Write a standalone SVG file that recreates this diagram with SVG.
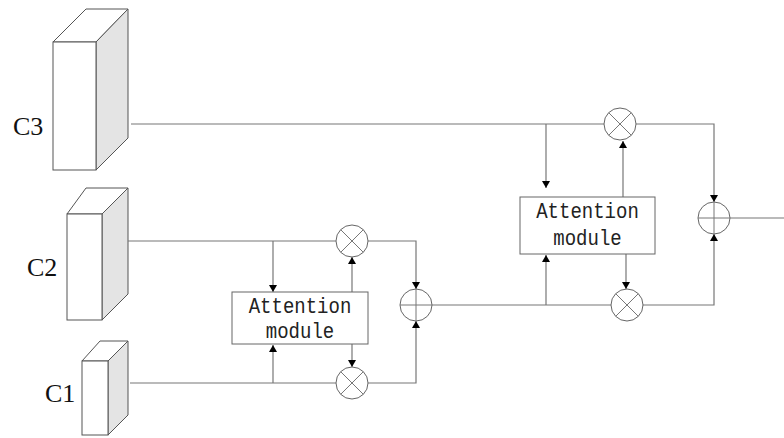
<svg xmlns="http://www.w3.org/2000/svg" width="784" height="438" viewBox="0 0 784 438">
<defs>
<style>
.front{fill:#fff;stroke:#555;stroke-width:1}
.side{fill:#e4e4e4;stroke:#555;stroke-width:1}
.top{fill:#fff;stroke:#555;stroke-width:1}
.lbl{font-family:"Liberation Serif",serif;font-size:26px;fill:#111}
.box{fill:#fff;stroke:#666;stroke-width:1}
.mt{font-family:"Liberation Mono",monospace;font-size:19px;fill:#222;text-anchor:middle}
.ln{fill:none;stroke:#777;stroke-width:1.2}
.op{fill:#fff;stroke:#666;stroke-width:1}
.sym{stroke:#777;stroke-width:1;fill:none}
</style>
<marker id="ah" viewBox="0 0 7 8" refX="7" refY="4" markerWidth="7" markerHeight="8" markerUnits="userSpaceOnUse" orient="auto">
<path d="M0,0 L7,4 L0,8 Z" fill="#000"/>
</marker>
</defs>

<g id="C3">
<polygon class="top" points="53,42 86,9 128,9 96,42"/>
<polygon class="side" points="96,42 128,9 128,138 96,170"/>
<rect class="front" x="53" y="42" width="43" height="128"/>
<text class="lbl" x="13" y="135">C3</text>
</g>
<g id="C2">
<polygon class="top" points="67,214 86,188 128,188 102,214"/>
<polygon class="side" points="102,214 128,188 128,294 102,320"/>
<rect class="front" x="67" y="214" width="35" height="106"/>
<text class="lbl" x="27" y="276">C2</text>
</g>
<g id="C1">
<polygon class="top" points="82,361 100,341 128,341 108,361"/>
<polygon class="side" points="108,361 128,341 128,415 108,435"/>
<rect class="front" x="82" y="361" width="26" height="74"/>
<text class="lbl" x="45" y="402">C1</text>
</g>

<g id="connectors">
<path class="ln" d="M128,241 H336"/>
<path class="ln" d="M273,241 V292" marker-end="url(#ah)"/>
<path class="ln" d="M352,292 V257" marker-end="url(#ah)"/>
<path class="ln" d="M368,241 H416 V289" marker-end="url(#ah)"/>
<path class="ln" d="M130,383 H336"/>
<path class="ln" d="M352,344 V367" marker-end="url(#ah)"/>
<path class="ln" d="M273,383 V345" marker-end="url(#ah)"/>
<path class="ln" d="M368,383 H416 V321" marker-end="url(#ah)"/>
<path class="ln" d="M432,305 H611"/>
<path class="ln" d="M131,124 H604"/>
<path class="ln" d="M546,124 V188" marker-end="url(#ah)"/>
<path class="ln" d="M623,197 V141" marker-end="url(#ah)"/>
<path class="ln" d="M636,124 H714 V202" marker-end="url(#ah)"/>
<path class="ln" d="M626,254 V289" marker-end="url(#ah)"/>
<path class="ln" d="M546,305 V255" marker-end="url(#ah)"/>
<path class="ln" d="M643,305 H714 V234" marker-end="url(#ah)"/>
<path class="ln" d="M730,218 H784"/>
</g>

<g id="att1">
<rect class="box" x="232" y="292" width="136" height="52"/>
<text class="mt" transform="translate(300,313) scale(1,1.15)">Attention</text>
<text class="mt" transform="translate(300,338) scale(1,1.15)">module</text>
</g>
<g id="att2">
<rect class="box" x="520" y="197" width="135" height="57"/>
<text class="mt" transform="translate(587.5,218) scale(1,1.15)">Attention</text>
<text class="mt" transform="translate(587.5,245) scale(1,1.15)">module</text>
</g>

<g id="mul1">
<circle class="op" cx="352" cy="241" r="16"/>
<path class="sym" d="M340.7,229.7 L363.3,252.3 M363.3,229.7 L340.7,252.3"/>
</g>
<g id="mul2">
<circle class="op" cx="352" cy="383" r="16"/>
<path class="sym" d="M340.7,371.7 L363.3,394.3 M363.3,371.7 L340.7,394.3"/>
</g>
<g id="add1">
<circle class="op" cx="416" cy="305" r="16"/>
<path class="sym" d="M400,305 H432 M416,289 V321"/>
</g>
<g id="mul3">
<circle class="op" cx="620" cy="124" r="16"/>
<path class="sym" d="M608.7,112.7 L631.3,135.3 M631.3,112.7 L608.7,135.3"/>
</g>
<g id="mul4">
<circle class="op" cx="627" cy="305" r="16"/>
<path class="sym" d="M615.7,293.7 L638.3,316.3 M638.3,293.7 L615.7,316.3"/>
</g>
<g id="add2">
<circle class="op" cx="714" cy="218" r="16"/>
<path class="sym" d="M698,218 H730 M714,202 V234"/>
</g>
</svg>
